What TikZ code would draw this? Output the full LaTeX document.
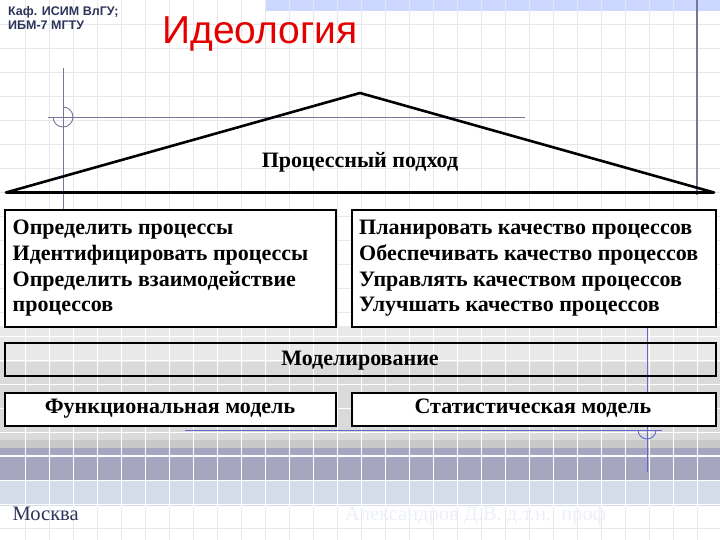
\documentclass[tikz,border=0pt]{standalone}
\usepackage{fontspec}
\setmainfont{Liberation Serif}
\newfontfamily\arialfont{Liberation Sans}

\definecolor{gridgray}{RGB}{230,230,236}
\definecolor{guidegray}{RGB}{120,120,150}
\definecolor{guideblue}{RGB}{95,105,205}
\definecolor{topblue}{RGB}{204,216,255}
\definecolor{titlered}{RGB}{228,0,0}
\definecolor{navy}{RGB}{45,52,90}
\definecolor{bandA}{RGB}{233,233,233}
\definecolor{bandB}{RGB}{218,218,218}
\definecolor{bandC}{RGB}{200,200,200}
\definecolor{bandD}{RGB}{166,166,192}
\definecolor{bandE}{RGB}{213,220,233}
\definecolor{faint}{RGB}{238,240,248}

\newcommand\boxfont{\bfseries\fontsize{22}{26}\selectfont}

\begin{document}
\begin{tikzpicture}[x=1pt,y=-1pt,
    box/.style={draw=black,line width=2pt,fill=white,inner sep=0pt,anchor=north west},
    boxtxt/.style={font=\boxfont,inner sep=0pt,anchor=base west},
    midtxt/.style={font=\boxfont,inner sep=0pt,anchor=base},
    guide/.style={color=guidegray,line width=0.9pt}]
  \useasboundingbox (0,0) rectangle (720,540);

  % background bands
  \fill[white] (0,0) rectangle (720,540);
  \fill[topblue] (265,0) rectangle (720,11);
  \fill[bandA] (0,326) rectangle (720,362);
  \fill[bandB] (0,362) rectangle (720,440);
  \fill[bandC] (0,440) rectangle (720,448);
  \fill[bandD] (0,448) rectangle (720,480);
  \fill[bandE] (0,480) rectangle (720,506);

  % grid
  \foreach \k in {1,...,29} {
    \draw[gridgray] (24*\k+1,0) -- (24*\k+1,326);
    \draw[white] (24*\k+1,326) -- (24*\k+1,506);
    \draw[gridgray] (24*\k+1,506) -- (24*\k+1,540);
  }
  \foreach \k in {1,...,13} \draw[gridgray] (0,24*\k) -- (720,24*\k);
  \foreach \k in {14,...,21} \draw[white] (0,24*\k) -- (720,24*\k);
  \draw[gridgray] (0,528) -- (720,528);
  \draw[white,line width=1pt] (0,455) -- (720,455);
  \draw[white,line width=1pt] (0,506) -- (720,506);

  % guide lines
  \draw[guide,line width=1.3pt] (697,0) -- (697,195);
  \draw[guide] (48,117) -- (525,117);
  \draw[guide] (63,68) -- (63,212);
  \draw[guide] (63,107) arc (-90:180:10);
  \draw[guideblue,line width=0.9pt] (185,430) -- (662,430);
  \draw[guideblue,line width=0.9pt] (647,325) -- (647,472);
  \draw[guideblue,line width=0.9pt] (656,430) arc (0:180:9);

  % heading
  \node[font=\arialfont\bfseries\fontsize{12.5}{15}\selectfont,text=navy,inner sep=0pt,anchor=base west] (dept1) at (8,15.7) {Каф. ИСИМ ВлГУ;};
  \node[font=\arialfont\bfseries\fontsize{12.5}{15}\selectfont,text=navy,inner sep=0pt,anchor=base west] (dept2) at (8,29.5) {ИБМ-7 МГТУ};
  \node[font=\arialfont\fontsize{39}{44}\selectfont,text=titlered,inner sep=0pt,anchor=base] (title) at (260,44) {Идеология};

  % roof
  \draw[line width=2.6pt,line join=round] (6,192.5) -- (360,93) -- (714,192.5) -- cycle;
  \node[midtxt] (roof) at (360,168) {Процессный подход};

  % boxes
  \node[box,minimum width=331pt,minimum height=116pt] (left) at (4,209.5) {};
  \node[box,minimum width=364pt,minimum height=116pt] (right) at (351,209.5) {};
  \node[box,fill=none,minimum width=711pt,minimum height=33pt] (modbox) at (4,342) {};
  \node[box,minimum width=331pt,minimum height=33pt] (funcbox) at (4,392) {};
  \node[box,minimum width=364pt,minimum height=33pt] (statbox) at (351,392) {};

  \foreach \txt [count=\i] in {Определить процессы,Идентифицировать процессы,Определить взаимодействие,процессов}
    \node[boxtxt] (l\i) at (12.5,235+25.6*\i-25.6) {\txt};
  \foreach \txt [count=\i] in {Планировать качество процессов,Обеспечивать качество процессов,Управлять качеством процессов,Улучшать качество процессов}
    \node[boxtxt] (r\i) at (359,235+25.6*\i-25.6) {\txt};

  \node[midtxt] (model) at (360,365) {Моделирование};
  \node[midtxt] (func) at (170,413) {Функциональная модель};
  \node[midtxt] (stat) at (533,413) {Статистическая модель};

  % footer
  \node[font=\fontsize{20.5}{24}\selectfont,text=navy,inner sep=0pt,anchor=base west] (city) at (12.5,520.5) {Москва};
  \node[font=\fontsize{20.5}{24}\selectfont,text=faint,inner sep=0pt,anchor=base west] (author) at (345,520.5) {Александров Д.В. д.т.н., проф};
\end{tikzpicture}
\end{document}
